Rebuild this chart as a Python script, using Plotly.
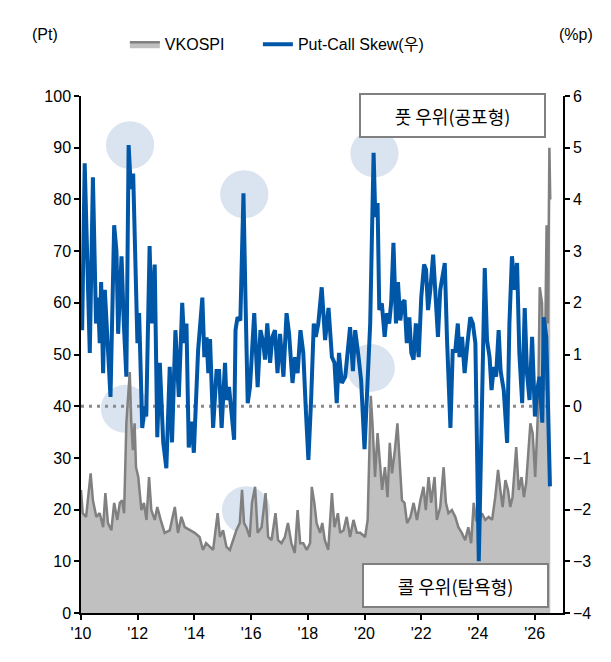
import plotly.graph_objects as go

# ---- data (decimal years) ----
vk_t = [2010.00, 2010.06, 2010.18, 2010.34, 2010.42, 2010.54, 2010.66, 2010.78, 2010.86, 2010.95,
        2011.07, 2011.17, 2011.28, 2011.37, 2011.45, 2011.52, 2011.60, 2011.66, 2011.72, 2011.77,
        2011.83, 2011.89, 2011.94, 2012.02, 2012.13, 2012.22, 2012.31, 2012.40, 2012.48, 2012.60,
        2012.69, 2012.81, 2012.95, 2013.13, 2013.31, 2013.42, 2013.54, 2013.66, 2013.83, 2014.01,
        2014.18, 2014.30, 2014.41, 2014.66, 2014.82, 2014.90, 2015.01, 2015.13, 2015.25, 2015.36,
        2015.48, 2015.60, 2015.68, 2015.75, 2015.83, 2015.95, 2016.03, 2016.14, 2016.23, 2016.37,
        2016.51, 2016.60, 2016.72, 2016.86, 2016.95, 2017.07, 2017.19, 2017.30, 2017.42, 2017.54,
        2017.64, 2017.73, 2017.84, 2017.96, 2018.08, 2018.14, 2018.23, 2018.31, 2018.43, 2018.51,
        2018.60, 2018.72, 2018.85, 2018.94, 2019.06, 2019.14, 2019.26, 2019.37, 2019.49, 2019.61,
        2019.73, 2019.85, 2020.02, 2020.11, 2020.16, 2020.22, 2020.28, 2020.37, 2020.46, 2020.54,
        2020.62, 2020.72, 2020.81, 2020.89, 2020.97, 2021.07, 2021.16, 2021.23, 2021.32, 2021.41,
        2021.50, 2021.62, 2021.73, 2021.85, 2021.97, 2022.08, 2022.16, 2022.26, 2022.35, 2022.47,
        2022.55, 2022.67, 2022.79, 2022.87, 2022.96, 2023.08, 2023.20, 2023.31, 2023.43, 2023.55,
        2023.66, 2023.76, 2023.85, 2023.93, 2024.03, 2024.14, 2024.26, 2024.38, 2024.50, 2024.61,
        2024.71, 2024.79, 2024.87, 2024.97, 2025.06, 2025.14, 2025.22, 2025.35, 2025.44, 2025.54,
        2025.62, 2025.70, 2025.79, 2025.85, 2025.93, 2026.02, 2026.12, 2026.18, 2026.26, 2026.33,
        2026.38, 2026.42, 2026.47, 2026.52, 2026.55]
vk_v = [23.8, 19.3, 18.6, 27.0, 21.8, 18.6, 19.3, 16.6, 23.2, 17.4,
        16.0, 21.3, 18.0, 21.3, 21.8, 19.3, 36.7, 42.5, 46.6, 37.3,
        31.5, 36.7, 28.2, 26.3, 19.9, 21.3, 18.0, 26.3, 19.9, 18.0,
        20.5, 18.0, 15.5, 16.0, 20.5, 15.5, 18.6, 16.6, 16.0, 15.5,
        14.7, 12.2, 13.5, 12.2, 19.3, 14.7, 16.0, 12.8, 12.2, 14.1,
        16.0, 17.4, 23.8, 17.4, 16.6, 14.7, 21.3, 24.4, 15.5, 16.6,
        23.2, 14.7, 14.1, 19.3, 14.1, 13.5, 14.7, 17.4, 13.5, 11.6,
        19.9, 13.5, 13.5, 12.2, 13.5, 24.4, 21.3, 17.4, 15.5, 17.4,
        14.1, 12.2, 23.2, 16.6, 19.3, 15.5, 16.0, 18.6, 14.7, 18.0,
        15.5, 15.5, 14.7, 18.0, 30.0, 42.0, 36.7, 26.3, 34.8, 29.0,
        23.8, 28.2, 22.4, 32.9, 27.0, 31.5, 36.7, 30.2, 21.8, 21.3,
        17.4, 18.6, 21.3, 18.0, 21.8, 24.4, 19.9, 26.3, 21.3, 26.3,
        18.0, 20.5, 28.2, 21.3, 19.3, 19.9, 18.6, 16.6, 15.5, 14.1,
        16.6, 13.5, 21.3, 18.0, 17.4, 19.3, 18.0, 18.6, 18.0, 22.4,
        27.7, 23.8, 20.5, 25.7, 23.8, 20.5, 22.4, 32.1, 23.8, 26.3,
        22.4, 25.1, 32.1, 36.7, 34.8, 26.3, 39.3, 63.0, 60.0, 43.0,
        56.0, 75.0, 56.0, 90.0, 80.0]

skew_t = [2010.04, 2010.13, 2010.25, 2010.31, 2010.42, 2010.53, 2010.60, 2010.66, 2010.71, 2010.78,
          2010.84, 2010.92, 2011.04, 2011.17, 2011.25, 2011.31, 2011.43, 2011.51, 2011.60, 2011.68,
          2011.76, 2011.84, 2011.92, 2011.99, 2012.05, 2012.16, 2012.25, 2012.30, 2012.42, 2012.49,
          2012.60, 2012.69, 2012.78, 2012.90, 2013.01, 2013.13, 2013.21, 2013.33, 2013.45, 2013.57,
          2013.64, 2013.72, 2013.80, 2013.90, 2013.98, 2014.13, 2014.28, 2014.35, 2014.43, 2014.49,
          2014.55, 2014.66, 2014.78, 2014.87, 2014.96, 2015.08, 2015.13, 2015.22, 2015.31, 2015.40,
          2015.45, 2015.52, 2015.62, 2015.73, 2015.80, 2015.88, 2015.96, 2016.11, 2016.23, 2016.33,
          2016.43, 2016.49, 2016.57, 2016.67, 2016.75, 2016.84, 2016.93, 2017.02, 2017.14, 2017.25,
          2017.34, 2017.46, 2017.55, 2017.64, 2017.74, 2017.84, 2017.93, 2018.02, 2018.12, 2018.21,
          2018.28, 2018.37, 2018.49, 2018.61, 2018.73, 2018.85, 2018.94, 2019.02, 2019.10, 2019.20,
          2019.32, 2019.43, 2019.49, 2019.59, 2019.67, 2019.79, 2019.88, 2020.00, 2020.12, 2020.20,
          2020.32, 2020.38, 2020.46, 2020.52, 2020.61, 2020.71, 2020.79, 2020.87, 2020.94, 2021.02,
          2021.11, 2021.18, 2021.26, 2021.34, 2021.41, 2021.49, 2021.58, 2021.65, 2021.73, 2021.81,
          2021.91, 2022.00, 2022.10, 2022.17, 2022.24, 2022.32, 2022.42, 2022.50, 2022.59, 2022.67,
          2022.76, 2022.83, 2022.91, 2023.03, 2023.11, 2023.20, 2023.29, 2023.35, 2023.44, 2023.53,
          2023.63, 2023.73, 2023.82, 2023.91, 2024.03, 2024.12, 2024.24, 2024.32, 2024.41, 2024.48,
          2024.56, 2024.64, 2024.73, 2024.80, 2024.91, 2025.03, 2025.11, 2025.20, 2025.30, 2025.38,
          2025.46, 2025.56, 2025.65, 2025.73, 2025.82, 2025.91, 2026.01, 2026.09, 2026.17, 2026.27,
          2026.32, 2026.41, 2026.48, 2026.54]
skew_v = [1.47, 4.70, 2.25, 1.03, 4.43, 1.60, 2.10, 1.22, 2.40, 0.64,
          2.25, 1.47, 0.18, 3.50, 3.00, 1.40, 2.90, 1.60, 0.57, 5.05,
          4.20, 4.50, 2.90, 1.22, 1.80, -0.42, 0.00, -0.20, 3.10, 1.60,
          2.74, -0.60, 0.84, -0.70, -1.20, 0.76, -0.70, 1.47, 0.18, 2.00,
          1.22, 1.60, -0.80, -0.30, -0.90, 1.08, 2.10, 0.95, 1.33, 0.64,
          1.30, -0.42, 0.68, 0.68, -0.42, 0.84, 0.12, 0.37, -0.13, -0.65,
          1.47, 1.72, 1.66, 4.12, 2.10, 0.06, 0.37, 1.80, 0.37, 1.47,
          1.22, 0.90, 1.60, 0.84, 1.34, 1.47, 0.64, 1.40, 0.57, 1.80,
          1.40, 0.45, 0.95, 0.64, 1.47, 1.03, -0.07, -1.04, 0.18, 1.60,
          1.34, 1.60, 2.30, 1.28, 1.90, 0.95, 0.84, 0.06, 1.03, 0.45,
          0.57, 1.22, 1.53, 0.68, 1.47, 0.95, 0.50, -0.83, 0.84, 1.60,
          4.90, 3.66, 3.93, 1.86, 1.99, 1.34, 1.80, 1.60, 2.00, 3.16,
          1.60, 2.40, 1.66, 2.00, 2.05, 1.22, 1.72, 1.03, 0.90, 1.60,
          0.95, 2.10, 2.74, 2.64, 1.86, 2.25, 2.93, 2.10, 1.34, 2.25,
          2.50, 2.77, 1.28, -0.42, 1.07, 1.07, 1.60, 0.95, 1.34, 0.64,
          1.22, 1.72, 1.60, 1.22, -3.00, -0.32, 2.67, 1.28, 0.95, 0.31,
          0.76, 0.57, 1.47, 0.68, 0.31, -0.71, 1.60, 2.90, 2.25, 2.77,
          1.03, 0.06, 1.90, 0.64, 0.12, 1.34, -0.20, 0.31, 0.57, -0.32,
          1.72, 1.34, -0.32, -1.55]

tick_years = [2010, 2012, 2014, 2016, 2018, 2020, 2022, 2024, 2026]
tick_labels = ["'10", "'12", "'14", "'16", "'18", "'20", "'22", "'24", "'26"]

# highlight circles: (year, left-axis value)
circle_x = [2011.73, 2015.76, 2020.35, 2020.22, 2011.55, 2015.82]
circle_y = [90.5, 81.0, 88.9, 47.4, 39.5, 19.9]

BLUE = "#0057a8"
GRAY_LINE = "#808080"
GRAY_FILL = "#c0c0c0"
FONT = "Liberation Sans, Arial, Noto Sans CJK KR"

fig = go.Figure()
fig.add_trace(go.Scatter(x=vk_t, y=vk_v, name="VKOSPI", mode="lines",
                         line=dict(color=GRAY_LINE, width=2.5),
                         fill="tozeroy", fillcolor=GRAY_FILL, legend="legend"))
fig.add_trace(go.Scatter(x=[2010, 2026.45], y=[0, 0], yaxis="y2", mode="lines",
                         line=dict(color="#8a8a8a", width=3, dash="3px,5px"),
                         showlegend=False, hoverinfo="skip"))
fig.add_trace(go.Scatter(x=skew_t, y=skew_v, name="Put-Call Skew(우)", yaxis="y2",
                         mode="lines", line=dict(color=BLUE, width=4), legend="legend2"))

shapes = []
for cx, cy in zip(circle_x, circle_y):
    shapes.append(dict(type="circle", xref="x", yref="y", layer="below",
                       x0=cx - 0.85, x1=cx + 0.85, y0=cy - 4.64, y1=cy + 4.64,
                       fillcolor="rgb(218,227,240)", line=dict(width=0)))
shapes.append(dict(type="rect", xref="paper", yref="paper",
                   x0=-0.15, x1=1.12, y0=1.171, y1=1.178,
                   fillcolor="#c0c0c0", line=dict(width=0)))

annotations = [
    dict(text="(Pt)", xref="paper", yref="paper", x=-0.075, y=1.118,
         xanchor="center", yanchor="middle",
         showarrow=False, font=dict(size=16, color="black", family=FONT)),
    dict(text="(%p)", xref="paper", yref="paper", x=1.027, y=1.118,
         xanchor="center", yanchor="middle",
         showarrow=False, font=dict(size=16, color="black", family=FONT)),
    dict(text="풋 우위(공포형)", xref="paper", yref="paper", x=0.771, y=0.962,
         xanchor="center", yanchor="middle",
         showarrow=False, width=183, height=41, borderpad=0, borderwidth=2,
         bordercolor="#808080", bgcolor="white",
         font=dict(size=18, color="black", family="Noto Sans CJK KR")),
    dict(text="콜 우위(탐욕형)", xref="paper", yref="paper", x=0.776, y=0.053,
         xanchor="center", yanchor="middle",
         showarrow=False, width=183, height=41, borderpad=0, borderwidth=2,
         bordercolor="#808080", bgcolor="white",
         font=dict(size=18, color="black", family="Noto Sans CJK KR")),
]

axis_common = dict(showline=True, linecolor="black", linewidth=1.5, ticks="outside",
                   ticklen=5, tickwidth=1.5, tickcolor="black", showgrid=False,
                   zeroline=False, tickfont=dict(size=16, color="black", family=FONT))

legend_common = dict(orientation="h", y=1.10, xanchor="left", yanchor="middle",
                     font=dict(size=16, family=FONT), bgcolor="rgba(0,0,0,0)")

fig.update_layout(
    width=603, height=654,
    margin=dict(l=73, r=48, t=88, b=49),
    paper_bgcolor="white", plot_bgcolor="white",
    font=dict(family=FONT, size=16, color="black"),
    xaxis=dict(range=[2010, 2027], tickvals=tick_years, ticktext=tick_labels, **axis_common),
    yaxis=dict(range=[0, 100], dtick=10, **axis_common),
    yaxis2=dict(range=[-4, 6], dtick=1, overlaying="y", side="right", **axis_common),
    legend=dict(x=0.091, **legend_common),
    legend2=dict(x=0.367, **legend_common),
    shapes=shapes, annotations=annotations,
)

fig.write_html("out.html")
